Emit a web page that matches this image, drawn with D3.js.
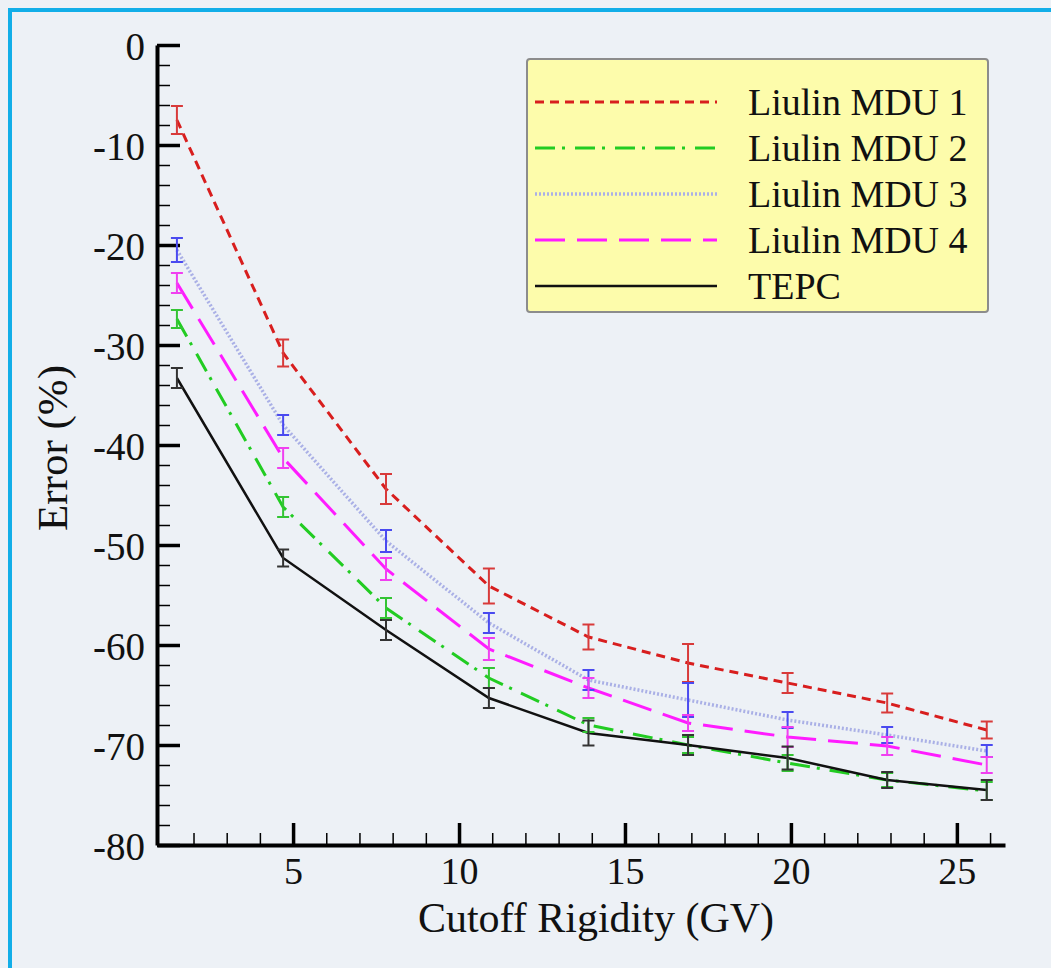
<!DOCTYPE html>
<html>
<head>
<meta charset="utf-8">
<script src="https://cdn.jsdelivr.net/npm/d3@7"></script>
<style>
  html, body { margin: 0; padding: 0; background: #edf1f6; }
  svg { display: block; }
</style>
</head>
<body>
<script>
// Cutoff rigidity (GV) of each measurement
var rigidity = [1.5, 4.7, 7.8, 10.9, 13.9, 16.9, 19.9, 22.9, 25.9];

// Series names (legend order)
var seriesNames = ["Liulin MDU 1", "Liulin MDU 2", "Liulin MDU 3", "Liulin MDU 4", "TEPC"];

// Error (%) values and their error bar half-widths
var mdu1 = [-7.5, -30.8, -44.4, -54.1, -59.2, -61.8, -63.8, -65.8, -68.5];
var mdu1Err = [1.4, 1.35, 1.5, 1.75, 1.25, 1.9, 1.0, 0.95, 0.85];
var mdu2 = [-27.4, -46.2, -56.3, -63.3, -68.0, -70.0, -71.8, -73.5, -74.6];
var mdu2Err = [0.9, 1.0, 1.0, 1.0, 0.7, 0.8, 0.8, 0.7, 0.9];
var mdu3 = [-20.5, -38.0, -49.6, -57.8, -63.5, -65.5, -67.5, -69.0, -70.6];
var mdu3Err = [1.2, 1.0, 1.1, 1.0, 1.0, 1.7, 0.8, 0.8, 0.6];
var mdu4 = [-23.8, -41.3, -52.4, -60.4, -64.3, -67.8, -69.2, -70.1, -72.0];
var mdu4Err = [1.0, 1.0, 1.1, 1.1, 1.0, 0.8, 1.0, 0.9, 0.8];
var tepc = [-33.3, -51.3, -58.5, -65.3, -68.8, -70.0, -71.3, -73.5, -74.5];
var tepcErr = [1.0, 0.85, 1.0, 1.0, 1.25, 1.0, 1.15, 0.8, 1.0];

// Axis ticks
var xMajorTicks = [5, 10, 15, 20, 25];
var yMajorTicks = [0, -10, -20, -30, -40, -50, -60, -70, -80];

var width = 1051, height = 968;
var font = "'Liberation Serif', 'Times New Roman', serif";

var svg = d3.select("body").append("svg")
    .attr("width", width)
    .attr("height", height);

// background and the cyan frame (top and left only, image is cropped)
svg.append("rect").attr("width", width).attr("height", height).attr("fill", "#edf1f6");
svg.append("rect").attr("x", 8).attr("y", 8).attr("width", width - 8).attr("height", 4).attr("fill", "#12aee8");
svg.append("rect").attr("x", 8).attr("y", 8).attr("width", 4).attr("height", height - 8).attr("fill", "#12aee8");

var x = d3.scaleLinear().domain([0.9, 26.45]).range([157, 1005]);
var y = d3.scaleLinear().domain([-80, 0]).range([845, 45]);

// plain hyphen for negatives, like the original
var plain = function (d) { return String(d); };

// Styles per series
var styles = [
    { line: "#d81e1e", bar: "#d83a3a", dash: "9,6", w: 3 },
    { line: "#22cc22", bar: "#33c433", dash: "20,7,3,10", w: 3 },
    { line: "#aab0e6", bar: "#4a4af0", dash: "2,2", w: 3.5 },
    { line: "#ff1cff", bar: "#f040f0", dash: "30,12", w: 3 },
    { line: "#111111", bar: "#333333", dash: null, w: 2.5 }
];
var values = [mdu1, mdu2, mdu3, mdu4, tepc];
var errors = [mdu1Err, mdu2Err, mdu3Err, mdu4Err, tepcErr];

// Minor ticks
var xMinor = d3.range(2, 27).filter(function (d) { return d % 5 !== 0; });
var yMinor = d3.range(-78, 0, 2).filter(function (d) { return d % 10 !== 0; });

svg.append("g")
    .attr("transform", "translate(0,845)")
    .call(d3.axisBottom(x).tickValues(xMinor).tickSizeInner(-12).tickSizeOuter(0).tickFormat(""))
    .call(function (g) {
        g.select(".domain").remove();
        g.selectAll("line").attr("stroke", "#000").attr("stroke-width", 1.5);
    });

svg.append("g")
    .attr("transform", "translate(157,0)")
    .call(d3.axisLeft(y).tickValues(yMinor).tickSizeInner(-13).tickSizeOuter(0).tickFormat(""))
    .call(function (g) {
        g.select(".domain").remove();
        g.selectAll("line").attr("stroke", "#000").attr("stroke-width", 1.5);
    });

// Major axes
svg.append("g")
    .attr("transform", "translate(0,845)")
    .call(d3.axisBottom(x).tickValues(xMajorTicks).tickSizeInner(-22).tickSizeOuter(0).tickPadding(12).tickFormat(plain))
    .call(function (g) {
        g.select(".domain").attr("stroke", "#000").attr("stroke-width", 4);
        g.selectAll(".tick line").attr("stroke", "#000").attr("stroke-width", 3.5);
        g.selectAll("text").attr("font-family", font).attr("font-size", 38).attr("fill", "#111");
    });

svg.append("g")
    .attr("transform", "translate(157,0)")
    .call(d3.axisLeft(y).tickValues(yMajorTicks).tickSizeInner(-23).tickSizeOuter(0).tickPadding(12).tickFormat(plain))
    .call(function (g) {
        g.select(".domain").attr("stroke", "#000").attr("stroke-width", 4);
        g.selectAll(".tick line").attr("stroke", "#000").attr("stroke-width", 3.5);
        g.selectAll("text").attr("font-family", font).attr("font-size", 39).attr("fill", "#111")
            .attr("dy", "0.36em");
    });

// Axis titles
svg.append("text")
    .attr("x", 596).attr("y", 932)
    .attr("text-anchor", "middle")
    .attr("font-family", font).attr("font-size", 42).attr("fill", "#111")
    .text("Cutoff Rigidity (GV)");

svg.append("text")
    .attr("transform", "translate(67,448) rotate(-90)")
    .attr("text-anchor", "middle")
    .attr("font-family", font).attr("font-size", 43).attr("fill", "#111")
    .text("Error (%)");

// Series lines
var line = d3.line()
    .x(function (d, i) { return x(rigidity[i]); })
    .y(function (d) { return y(d); });

values.forEach(function (vals, s) {
    svg.append("path")
        .datum(vals)
        .attr("d", line)
        .attr("fill", "none")
        .attr("stroke", styles[s].line)
        .attr("stroke-width", styles[s].w)
        .attr("stroke-dasharray", styles[s].dash);
});

// Error bars
values.forEach(function (vals, s) {
    var g = svg.append("g")
        .attr("stroke", styles[s].bar)
        .attr("stroke-width", 2);
    vals.forEach(function (v, i) {
        var cx = x(rigidity[i]);
        var top = y(v + errors[s][i]), bot = y(v - errors[s][i]);
        g.append("line").attr("x1", cx).attr("x2", cx).attr("y1", top).attr("y2", bot);
        g.append("line").attr("x1", cx - 6).attr("x2", cx + 6).attr("y1", top).attr("y2", top);
        g.append("line").attr("x1", cx - 6).attr("x2", cx + 6).attr("y1", bot).attr("y2", bot);
    });
});

// Legend
var legend = svg.append("g");
legend.append("rect")
    .attr("x", 527).attr("y", 59)
    .attr("width", 461).attr("height", 253)
    .attr("rx", 3)
    .attr("fill", "#fdfcab")
    .attr("stroke", "#8c8c8c")
    .attr("stroke-width", 2);

seriesNames.forEach(function (name, s) {
    var ly = 102 + s * 46;
    legend.append("line")
        .attr("x1", 535).attr("x2", 717)
        .attr("y1", ly).attr("y2", ly)
        .attr("stroke", styles[s].line)
        .attr("stroke-width", styles[s].w)
        .attr("stroke-dasharray", styles[s].dash);
    legend.append("text")
        .attr("x", 748).attr("y", ly + 13)
        .attr("font-family", font).attr("font-size", 38).attr("fill", "#111")
        .text(name);
});
</script>
</body>
</html>
